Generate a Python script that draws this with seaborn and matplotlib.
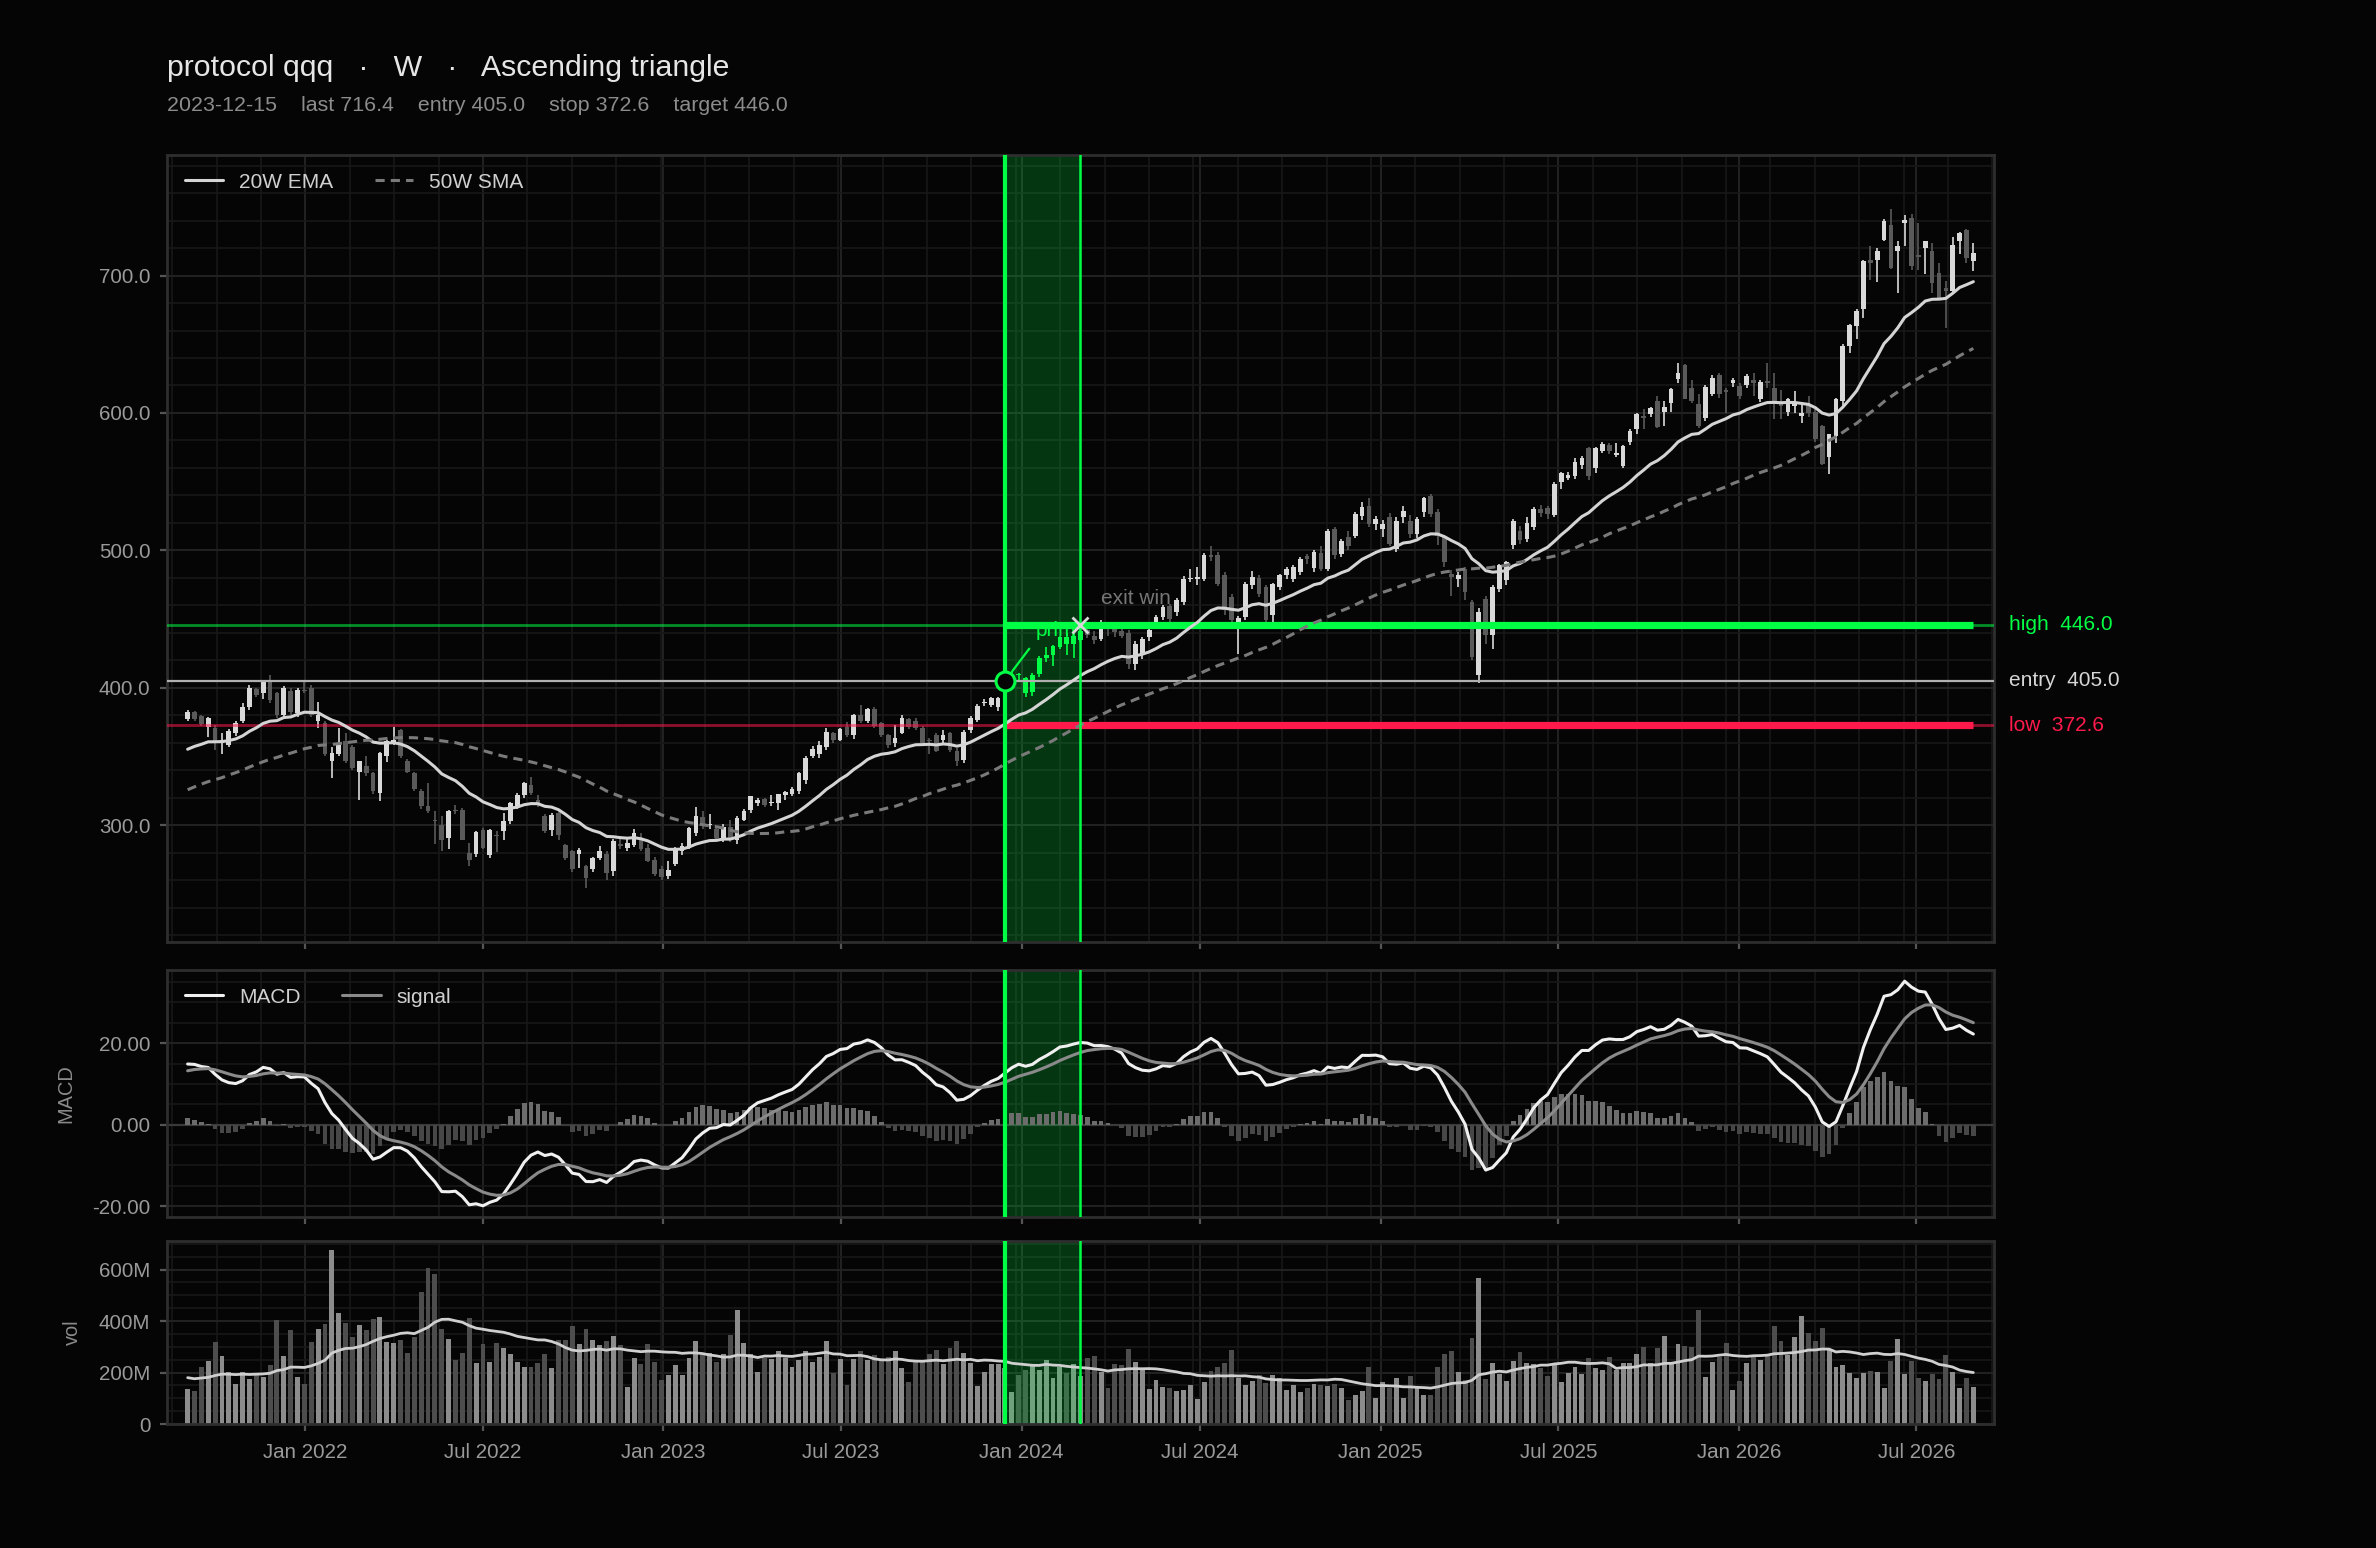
import matplotlib
matplotlib.use("Agg")
import matplotlib.pyplot as plt
import matplotlib.dates as mdates
import matplotlib.ticker as ticker
import matplotlib.transforms as mtransforms
import numpy as np
import pandas as pd
import seaborn as sns

# weekly bars (Fridays), first bar 2021-09-03
first_week = "2021-09-03"

opens = [
    377.5, 382, 379.5, 371.7, 371, 360, 358.5, 367, 375.5, 386,
    399, 396, 406, 396, 380, 398, 381.5, 398, 399.6, 375.5,
    374, 346.4, 352, 361, 357, 339, 342.8, 338, 323.4, 350,
    360.3, 369.4, 346.4, 338, 324.6, 313.7, 304, 300.4, 290.7, 311,
    311.3, 279.8, 279, 296.8, 278, 293, 295.6, 302.8, 313.7, 322,
    329.5, 318.6, 306.5, 296.8, 308.9, 285.9, 281, 279, 270, 267.8,
    276.2, 279, 266.6, 286, 283.5, 285.9, 289.5, 283.5, 275, 268,
    263, 271.4, 281, 284.7, 294.4, 306, 300, 297, 290, 299,
    289, 304, 311, 316, 319.3, 316, 316, 322, 323, 325,
    333, 350, 352, 357, 367, 362, 371.8, 365.7, 380.2, 376,
    384.6, 374.2, 365.7, 359.7, 367, 377.3, 375.9, 370.6, 362, 365.7,
    362, 367, 354.1, 347.6, 369.4, 376.6, 389, 387.5, 386.3, 392,
    405, 409.6, 407, 397, 410, 421.3, 424, 430, 437, 432,
    435, 442, 438, 435.8, 444, 443, 441, 440, 417, 424,
    437, 444.3, 451.6, 459.5, 455, 462.4, 479, 479, 479.4, 496.8,
    496.8, 481.8, 466.1, 444, 451.6, 474.5, 479.9, 473.3, 452.8, 473.3,
    481.8, 479.4, 484.2, 495.8, 487, 498.2, 486.6, 515.6, 497.5, 510,
    510.8, 525.3, 532.6, 519.3, 515.7, 524.1, 501.2, 524.1, 521.7, 512,
    527.8, 539.8, 528.2, 509.6, 483, 479.4, 486.6, 462.4, 409.2, 464.8,
    438.2, 472.1, 478.2, 503.6, 514.4, 508, 517, 530, 531, 525.4,
    549.6, 553, 554.4, 562, 574.2, 559.7, 572.6, 576.7, 569.5, 561.7,
    578.6, 588.3, 598, 599.2, 608.8, 600.4, 607.2, 624.6, 635, 618.5,
    606.4, 596, 613.7, 627.5, 617, 621.7, 619.8, 620, 624, 610.5,
    623, 618.5, 608, 600.4, 605, 598, 606, 600.4, 590.7, 567.7,
    583.4, 608.8, 648.8, 663.3, 675.4, 711, 711.6, 726.2, 737, 717.7,
    738.3, 741.9, 715, 720.1, 717.7, 702, 691, 688.7, 725, 733.4,
    710.4,
]

highs = [
    384, 383, 380, 378.5, 373, 367, 370, 376, 389, 402,
    400, 406, 409, 397, 401, 400, 400, 405, 402, 390,
    376, 357, 370.6, 367, 358, 347, 350, 339, 353, 362,
    371.8, 370, 348, 339, 326, 330.7, 310, 306.5, 311, 315,
    312.5, 287, 296, 298, 297, 296, 309, 317, 323.4, 331.5,
    335, 322.2, 308, 309, 310, 286, 282, 283.5, 271, 277,
    285, 281, 290, 290, 291, 297, 294, 286, 277, 270,
    274, 284, 287, 299, 313, 310, 308, 299, 300.5, 304,
    307, 312, 321.5, 320, 320, 322, 323, 325, 328, 339,
    350, 357.5, 361, 371, 368, 371, 375, 381, 387.5, 385,
    386, 375, 366, 373, 380, 378, 378, 372, 363.5, 367,
    369.5, 368, 356, 369, 379.5, 388.5, 391.5, 393, 393.5, 406,
    412.5, 411, 408, 411, 423, 430, 431, 438, 439.5, 440,
    446.5, 444, 441, 449, 447, 446, 443, 442, 434, 437,
    443, 453, 460, 461, 465, 481, 486.6, 487.8, 498, 503,
    499, 484, 468, 452, 477, 485, 482, 475, 476.5, 483,
    488, 489, 495, 497, 500.5, 503, 515.5, 517, 508, 514,
    528, 535, 538, 525, 522, 527, 524, 532, 526, 524,
    539, 541, 530, 511, 486, 484, 488, 464, 458, 467,
    474.5, 490, 492.5, 522.5, 518, 524, 531.5, 533, 532, 550,
    557, 557, 567, 569, 575, 575, 579, 578, 578, 576.5,
    588, 600, 602.8, 604.5, 612, 608.8, 618.5, 636.6, 636, 624,
    614, 620, 628, 629, 618.5, 625.8, 622, 628.5, 629, 624,
    636.6, 629.4, 617, 611, 616, 607.6, 612, 603, 591.5, 585,
    611, 650, 665, 675.5, 711.5, 721.3, 720, 740.9, 748.4, 725,
    744.3, 744.5, 738, 725.5, 724, 709, 696, 728, 732, 734,
    724,
]

lows = [
    376, 376, 372, 364, 355, 352, 357, 365, 374, 384,
    393, 392, 389, 378, 378, 380, 379, 396, 379, 370.5,
    350, 334, 350, 345, 340, 318.6, 336, 323, 317.5, 346,
    358, 349, 338, 325, 312, 309, 286, 281, 283, 308,
    289, 270, 277, 283, 276, 280.5, 289.5, 301, 312, 320,
    322, 313, 294.5, 292, 289, 274.5, 266, 269, 254.5, 266,
    275, 260, 263, 283, 281, 284, 281, 273, 263, 260,
    261, 270, 278, 283, 292, 297, 297, 289, 288, 288,
    286, 303, 309, 314, 313, 314, 311, 318, 321, 323,
    330, 349, 349, 355, 360, 361, 364, 363, 374, 374,
    371, 364, 356, 357, 366, 370, 369, 358, 352, 353,
    360, 353, 343, 345, 367, 375, 386.5, 386, 383, 388,
    404, 406, 393, 394, 408, 419, 416, 428, 424, 422,
    433, 436, 432, 434, 438, 437, 436, 414, 413, 421,
    434, 443, 449, 448, 452, 460, 477, 474.5, 478, 492,
    474, 453, 446, 424.5, 449, 472, 466, 447, 448, 471,
    479, 477, 482, 490, 484, 485, 485, 494, 495, 500,
    509, 522, 517, 515, 510, 503, 499, 520, 509, 509,
    524, 524, 504, 488, 467, 473, 464, 420, 403.2, 432,
    428, 470, 475, 501, 505, 506, 515, 524, 523, 524,
    545, 551, 552, 559, 551, 556, 571, 570, 568, 560,
    577, 585, 588, 597, 589, 590.7, 601, 622, 610, 607,
    589, 594, 612, 611, 600, 619, 610, 618, 612, 608,
    618, 595.5, 595.5, 598, 600, 593, 597, 579, 562, 555.6,
    578, 605, 643.3, 654, 669.3, 697, 695, 725, 705, 687.5,
    721.3, 704, 704.4, 701, 687.5, 683, 662, 688, 716, 709,
    703.2,
]

closes = [
    382.5, 377, 373.5, 377.7, 361, 362, 368.6, 374, 386.3, 400,
    395, 404.5, 391, 380, 399.6, 382.7, 398.4, 397.5, 380, 380.3,
    352, 352.4, 358.5, 346.4, 341.5, 346.4, 338, 324.6, 352.4, 360.9,
    362, 350, 339, 326, 313.7, 310, 303, 289.5, 310, 310,
    289.5, 275, 295, 283.5, 296.3, 292, 302.8, 316, 322.2, 330.7,
    323.4, 315, 295.6, 307.7, 293.2, 276.2, 267.8, 282, 261.7, 276.2,
    281, 265.3, 288.8, 285, 287, 294.4, 282.3, 274, 264.1, 262.5,
    267.5, 282.3, 284.7, 298, 306.5, 300.6, 300, 290.7, 298.7, 289.5,
    305, 310, 320.9, 318.6, 314.5, 317, 322.6, 324, 326.5, 337.9,
    348.8, 355.5, 358, 368.1, 362, 370.1, 365.7, 380, 375.9, 384.6,
    372.5, 365.7, 358.5, 363.8, 377.8, 371.8, 370.6, 359.7, 361, 354.1,
    365.7, 354.8, 346.4, 368.1, 378.3, 387, 390, 392.3, 392.8, 404,
    409.6, 409.5, 396.5, 409.5, 422, 423.8, 430.3, 437, 431.8, 438,
    441, 438.2, 434.6, 444, 443, 440.7, 437.5, 417, 432, 435.8,
    442, 451.6, 458.8, 450.4, 463.6, 479.4, 480, 480.5, 496.3, 495,
    475.7, 456.4, 449.1, 450.5, 475.7, 480.6, 468.5, 449.1, 475.7, 482.3,
    486.6, 487.8, 493.9, 493.4, 499, 486.6, 514.4, 496.8, 506.5, 503,
    526.5, 531.4, 519.3, 522.9, 519.3, 504.8, 521.7, 529, 512, 522.9,
    537.9, 526.5, 510.8, 491.5, 480.6, 481.8, 469.7, 422.5, 455.2, 438.2,
    473.3, 489, 491.5, 521.7, 507.2, 520, 530, 527, 526.5, 548.4,
    556.4, 554.6, 564.6, 567, 553.9, 574.2, 577.4, 572.6, 571, 575.7,
    587.1, 599.2, 596.7, 603.5, 589.5, 604, 617.3, 629.4, 610, 608.8,
    590.7, 619.2, 625.1, 613.7, 615, 624, 612.5, 627, 622, 622.6,
    622, 608.8, 605, 610, 607, 600, 600, 581, 562.9, 584.7,
    610, 648.8, 663.8, 674.2, 710.4, 709.5, 717.7, 739.5, 705.6, 721.3,
    740.7, 706.8, 713.6, 725, 694.7, 683.8, 688.7, 722.5, 731, 712.9,
    716.4,
]

volumes_m = [
    135, 127, 220, 244, 318, 264, 201, 155, 201, 174,
    200, 182, 229, 404, 264, 364, 182, 155, 318, 371,
    388, 677, 431, 392, 338, 384, 365, 408, 416, 318,
    313, 325, 275, 338, 513, 606, 583, 371, 330, 248,
    275, 412, 236, 310, 240, 314, 295, 271, 240, 221,
    221, 236, 271, 217, 325, 325, 381, 310, 369, 326,
    306, 322, 342, 306, 143, 256, 232, 310, 240, 170,
    190, 229, 190, 256, 322, 268, 275, 240, 271, 345,
    443, 314, 271, 201, 256, 252, 283, 256, 221, 248,
    283, 240, 260, 322, 197, 252, 151, 252, 283, 248,
    268, 244, 260, 283, 217, 162, 240, 244, 271, 287,
    232, 295, 322, 275, 236, 147, 201, 232, 232, 217,
    123, 190, 209, 229, 209, 248, 178, 221, 197, 235,
    187, 255, 264, 203, 139, 235, 229, 291, 242, 209,
    135, 170, 143, 139, 129, 131, 151, 96, 164, 205,
    221, 236, 287, 179, 151, 168, 190, 160, 190, 177,
    131, 151, 125, 138, 155, 151, 147, 155, 139, 92,
    112, 127, 221, 100, 164, 139, 177, 100, 186, 138,
    112, 112, 221, 271, 283, 201, 170, 334, 568, 174,
    236, 195, 166, 244, 279, 236, 232, 217, 186, 229,
    162, 197, 222, 195, 256, 216, 210, 260, 210, 236,
    236, 271, 299, 236, 295, 342, 242, 310, 303, 299,
    442, 182, 242, 262, 314, 131, 166, 236, 260, 248,
    268, 381, 322, 268, 338, 419, 353, 322, 373, 291,
    221, 229, 197, 178, 197, 205, 201, 139, 244, 330,
    194, 244, 178, 166, 194, 174, 268, 201, 139, 178,
    143,
]

# bars before the first visible week, only used to seed the averages
warmup_closes = [
    279, 269, 267, 271, 274, 287, 291, 288, 269, 293,
    290, 290, 300, 305, 305, 311, 313, 313.7, 321, 314,
    328, 314, 331, 336, 330, 314, 309, 313, 313, 316,
    324, 333, 342, 339, 337, 331, 330, 329, 334, 337,
    342, 343, 354, 360, 360, 356, 368, 364, 367, 369,
    370, 377,
]
warmup_volumes_m = [210, 165, 190, 175, 160, 205, 185, 170, 195, 180,
                    160, 175, 200, 185, 170, 190, 175, 195, 180]

symbol = "protocol qqq"
timeframe = "W"
pattern_name = "Ascending triangle"
entry_date = "2023-12-15"
exit_date = "2024-03-01"
entry_price = 405.0
stop_price = 372.6
target_price = 446.0

# ---------------------------------------------------------------
BG = "#050505"
GREEN = "#00ff44"
RED = "#ff1a4b"
UP = "#d9d9d9"
DOWN = "#5a5a5a"

sns.set_theme(style="dark")
plt.rcParams["font.family"] = ["Liberation Sans", "DejaVu Sans"]

df = pd.DataFrame({"open": opens, "high": highs, "low": lows,
                   "close": closes, "volume": volumes_m})
df["date"] = pd.date_range(first_week, periods=len(df), freq="W-FRI")
nw = len(warmup_closes)

all_close = pd.Series(warmup_closes + closes, dtype=float)
df["ema20"] = all_close.ewm(span=20, adjust=False).mean().iloc[nw:].to_numpy()
df["sma50"] = all_close.rolling(50).mean().iloc[nw:].to_numpy()
macd_all = all_close.ewm(span=12, adjust=False).mean() - all_close.ewm(span=26, adjust=False).mean()
sig_all = macd_all.ewm(span=9, adjust=False).mean()
df["macd"] = macd_all.iloc[nw:].to_numpy()
df["signal"] = sig_all.iloc[nw:].to_numpy()
df["hist"] = df["macd"] - df["signal"]
all_vol = pd.Series(warmup_volumes_m + volumes_m, dtype=float)
df["vol_avg"] = all_vol.rolling(20).mean().iloc[len(warmup_volumes_m):].to_numpy()

entry_ts = pd.Timestamp(entry_date)
exit_ts = pd.Timestamp(exit_date)
up = df["close"] >= df["open"]
in_trade = (df["date"] >= entry_ts) & (df["date"] <= exit_ts)
cols = np.where(in_trade, GREEN, np.where(up, UP, DOWN))

fig = plt.figure(figsize=(11.88, 7.74), dpi=200, facecolor=BG)
ax = fig.add_axes([0.0703, 0.3915, 0.7689, 0.5085])
axm = fig.add_axes([0.0703, 0.2138, 0.7689, 0.1596], sharex=ax)
axv = fig.add_axes([0.0703, 0.0801, 0.7689, 0.1182], sharex=ax)

# candles
body_lo = np.minimum(df["open"], df["close"])
body_h = np.maximum((df["close"] - df["open"]).abs(), 0.8)
ax.vlines(df["date"], df["low"], df["high"], colors=cols, lw=0.6, zorder=3)
ax.bar(df["date"], body_h, bottom=body_lo, width=4.8, color=cols, lw=0, zorder=3.1)

sns.lineplot(data=df, x="date", y="ema20", ax=ax, color="#d4d4d4", lw=1.1,
             label="20W EMA", zorder=5)
sns.lineplot(data=df, x="date", y="sma50", ax=ax, color="#7a7a7a", lw=1.1,
             linestyle=(0, (3, 2)), label="50W SMA", zorder=5)

# trade levels
ax.axhline(target_price, color=GREEN, alpha=0.55, lw=1.0, zorder=4)
ax.axhline(stop_price, color=RED, alpha=0.55, lw=1.0, zorder=4)
ax.axhline(entry_price, color="#b0b0b0", lw=0.8, zorder=4)
ax.hlines(target_price, entry_ts, df["date"].iloc[-1], color=GREEN, lw=2.6, zorder=4.5)
ax.hlines(stop_price, entry_ts, df["date"].iloc[-1], color=RED, lw=2.6, zorder=4.5)

trans = mtransforms.blended_transform_factory(ax.transAxes, ax.transData)
ax.text(1.008, target_price, f"high  {target_price:.1f}", transform=trans,
        color=GREEN, fontsize=7.5, va="center", ha="left")
ax.text(1.008, entry_price, f"entry  {entry_price:.1f}", transform=trans,
        color="#d6d6d6", fontsize=7.5, va="center", ha="left")
ax.text(1.008, stop_price, f"low  {stop_price:.1f}", transform=trans,
        color=RED, fontsize=7.5, va="center", ha="left")

ax.plot(entry_ts, entry_price, marker="o", ms=6.8, mfc=BG, mec=GREEN, mew=1.1, zorder=7)
ax.annotate("prim", xy=(entry_ts, entry_price), xytext=(11, 16),
            textcoords="offset points", color=GREEN, fontsize=7.5,
            ha="left", va="baseline", zorder=2.5,
            arrowprops=dict(arrowstyle="-", color=GREEN, lw=0.8,
                            shrinkA=1, shrinkB=4.5, relpos=(0, 0)))
ax.plot(exit_ts, target_price, marker="x", ms=6, mec="#d8d8d8", mew=1.0, zorder=7)
ax.annotate("exit win", xy=(exit_ts, target_price), xytext=(7.4, 7.3),
            textcoords="offset points", color="#767676", fontsize=7.5,
            ha="left", va="baseline", zorder=7)

# MACD
axm.bar(df["date"], df["hist"], width=4.8, lw=0, zorder=2,
        color=np.where(df["hist"] >= 0, "#6c6c6c", "#474747"))
axm.axhline(0, color="#3a3a3a", lw=0.8, zorder=1)
sns.lineplot(data=df, x="date", y="macd", ax=axm, color="#f0f0f0", lw=1.1,
             label="MACD", zorder=5)
sns.lineplot(data=df, x="date", y="signal", ax=axm, color="#8a8a8a", lw=1.1,
             label="signal", zorder=5)

# volume
axv.bar(df["date"], df["volume"], width=5.0, lw=0, zorder=1,
        color=np.where(up, "#8c8c8c", "#4d4d4d"))
sns.lineplot(data=df, x="date", y="vol_avg", ax=axv, color="#cfcfcf", lw=1.0,
             zorder=4, legend=False)

# trade window across panels
for a in (ax, axm, axv):
    a.axvspan(entry_ts, exit_ts, color=GREEN, alpha=0.2, lw=0, zorder=1.5)
    a.axvline(entry_ts, color=GREEN, lw=1.5, zorder=6)
    a.axvline(exit_ts, color=GREEN, lw=0.9, zorder=6)

# limits
lo, hi = df["low"].min(), df["high"].max()
pad = 0.08 * (hi - lo)
ax.set_ylim(lo - pad, hi + pad)
mvals = pd.concat([df["macd"], df["signal"], df["hist"]])
mpad = 0.05 * (mvals.max() - mvals.min())
axm.set_ylim(mvals.min() - mpad, mvals.max() + mpad)
axv.set_ylim(0, df["volume"].max() * 1.05)
ax.set_xlim(df["date"].iloc[0] - pd.Timedelta(weeks=3),
            df["date"].iloc[-1] + pd.Timedelta(weeks=3))

# axes styling
for a in (ax, axm, axv):
    a.set_facecolor(BG)
    a.set_axisbelow(True)
    for s in a.spines.values():
        s.set_color("#2e2e2e")
        s.set_linewidth(1.0)
    a.grid(True, which="major", color="#222222", lw=0.7)
    a.grid(True, which="minor", color="#181818", lw=0.6)
    a.tick_params(which="major", bottom=True, left=True, length=2.5, width=0.8,
                  color="#555555", labelcolor="#9a9a9a", labelsize=7.4, pad=3.5)
    a.tick_params(which="minor", length=0)
    a.tick_params(axis="x", pad=4.5)
    a.set_xlabel("")
    a.set_ylabel("")

ax.yaxis.set_major_locator(ticker.MultipleLocator(100))
ax.yaxis.set_minor_locator(ticker.AutoMinorLocator(5))
ax.yaxis.set_major_formatter(ticker.FormatStrFormatter("%.1f"))
axm.yaxis.set_major_locator(ticker.MultipleLocator(20))
axm.yaxis.set_minor_locator(ticker.AutoMinorLocator(4))
axm.yaxis.set_major_formatter(ticker.FormatStrFormatter("%.2f"))
axv.yaxis.set_major_locator(ticker.MultipleLocator(200))
axv.yaxis.set_minor_locator(ticker.AutoMinorLocator(4))
axv.yaxis.set_major_formatter(ticker.FuncFormatter(lambda v, p: "0" if v == 0 else f"{v:.0f}M"))

ax.xaxis.set_major_locator(mdates.MonthLocator(bymonth=(1, 7)))
ax.xaxis.set_major_formatter(mdates.DateFormatter("%b %Y"))
ax.xaxis.set_minor_locator(ticker.AutoMinorLocator(4))
ax.tick_params(labelbottom=False)
axm.tick_params(labelbottom=False)

axm.set_ylabel("MACD", color="#8a8a8a", fontsize=7.2, labelpad=6)
axv.set_ylabel("vol", color="#8a8a8a", fontsize=7.2, labelpad=6)

for a in (ax, axm):
    a.legend(loc="upper left", ncol=2, frameon=False, fontsize=7.5,
             labelcolor="#cfcfcf", handlelength=1.85, handletextpad=0.75,
             columnspacing=2.0, borderaxespad=0.45)

fig.text(0.0703, 0.951, f"{symbol}   ·   {timeframe}   ·   {pattern_name}",
         color="#e6e6e6", fontsize=10.9, ha="left", va="baseline")
fig.text(0.0703, 0.9283,
         f"{entry_date}    last {closes[-1]:.1f}    entry {entry_price:.1f}    "
         f"stop {stop_price:.1f}    target {target_price:.1f}",
         color="#8c8c8c", fontsize=7.7, ha="left", va="baseline")

fig.savefig("out.png", dpi=200, facecolor=BG)
